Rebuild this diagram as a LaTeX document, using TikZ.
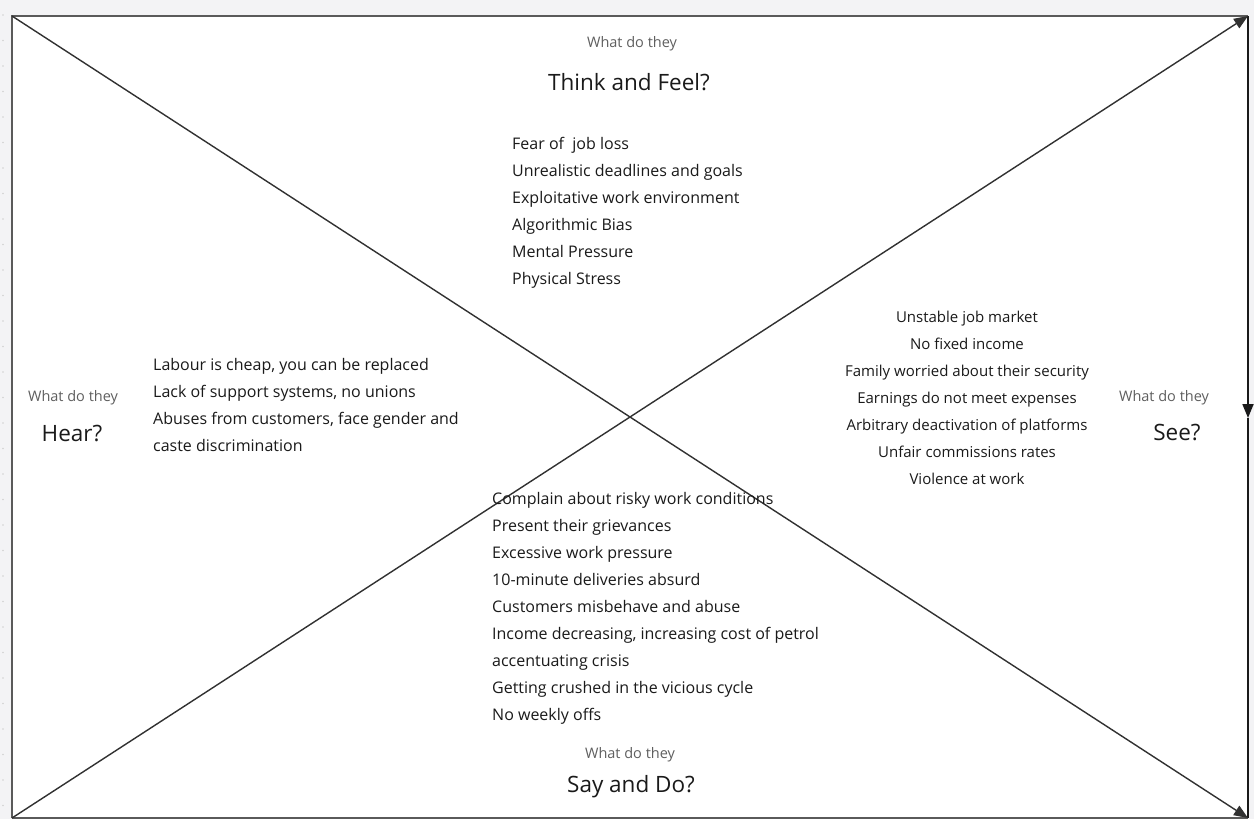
\documentclass[tikz,border=0pt]{standalone}
\usepackage{fontspec}
\setmainfont{Open Sans}
\usetikzlibrary{arrows.meta}
\definecolor{canvas}{HTML}{F3F3F5}
\definecolor{ink}{HTML}{1A1A1A}
\definecolor{edge}{HTML}{5A5A5A}
\begin{document}
\begin{tikzpicture}[x=1pt,y=-1pt,
  frame/.style={draw=edge, line width=1.8pt},
  diag/.style={draw=ink!90, line width=1.4pt},
  tip/.style={-{Triangle[length=14pt,width=11pt]}},
  small/.style={font=\fontsize{14.5}{17}\selectfont, text=ink!70, inner sep=0pt},
  big/.style={font=\fontsize{22.5}{26}\selectfont, text=ink, inner sep=0pt},
  list/.style={font=\fontsize{16}{27}\selectfont, text=ink, inner sep=0pt},
  narrowlist/.style={font=\fontsize{15}{27}\selectfont, text=ink, inner sep=0pt},
]
% canvas and page area
\fill[canvas] (0,0) rectangle (1254,819);
\useasboundingbox (0,0) rectangle (1254,819);
\foreach \k in {0,...,31} \fill[black!18] (3,15+25.5*\k) circle (0.8);

\coordinate (tl) at (12,16);
\coordinate (tr) at (1248,16);
\coordinate (bl) at (12,818);
\coordinate (br) at (1248,818);
\coordinate (rm) at (1248,418);

\fill[white] (tl) rectangle (br);

% frame
\draw[frame] (bl) -- (tl) -- (tr);
\draw[frame] (bl) -- (br);
\draw[frame, draw=ink, tip] (tr) -- (rm);
\draw[frame, draw=ink] (rm) -- (br);

% diagonals
\draw[diag, tip] (bl) -- (tr);
\draw[diag, tip] (tl) -- (br);

% Think and Feel
\node[small] (tfq) at (632,44) {What do they};
\node[big] (tft) at (629,82) {Think and Feel?};
\node[list, anchor=north west, align=left] (tfl) at (512,137.5) {Fear of\ \ job loss\\Unrealistic deadlines and goals\\Exploitative work environment\\Algorithmic Bias\\Mental Pressure\\Physical Stress};

% Hear
\node[small] (hq) at (73,398) {What do they};
\node[big] (ht) at (72,434) {Hear?};
\node[list, anchor=north west, align=left] (hl) at (153,358.5) {Labour is cheap, you can be replaced\\Lack of support systems, no unions\\Abuses from customers, face gender and\\caste discrimination};

% See
\node[small] (sq) at (1164,398) {What do they};
\node[big] (st) at (1177,433) {See?};
\node[narrowlist, anchor=north, align=center] (sl) at (967,310.5) {Unstable job market\\No fixed income\\Family worried about their security\\Earnings do not meet expenses\\Arbitrary deactivation of platforms\\Unfair commissions rates\\Violence at work};

% Say and Do
\node[list, anchor=north west, align=left] (dl) at (492,492.5) {Complain about risky work conditions\\Present their grievances\\Excessive work pressure\\10-minute deliveries absurd\\Customers misbehave and abuse\\Income decreasing, increasing cost of petrol\\accentuating crisis\\Getting crushed in the vicious cycle\\No weekly offs};
\node[small] (dq) at (630,755) {What do they};
\node[big] (dt) at (631,787) {Say and Do?};
\end{tikzpicture}
\end{document}
